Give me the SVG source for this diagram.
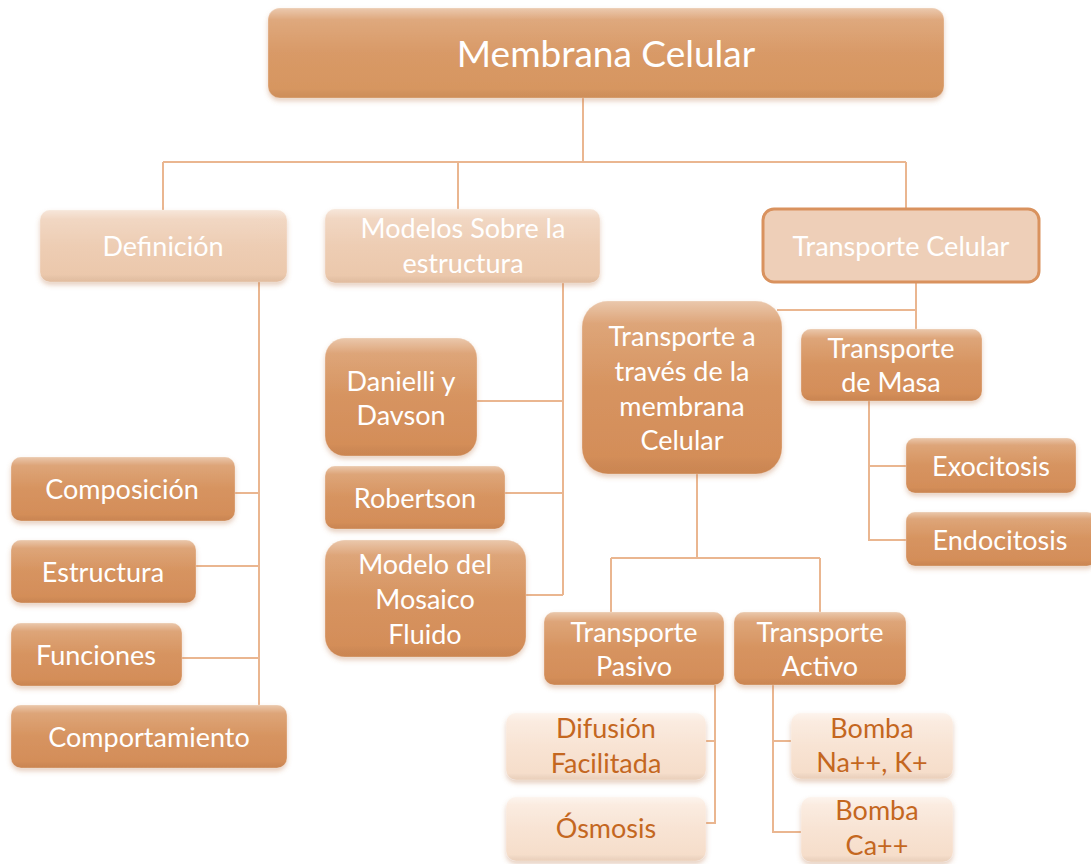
<svg xmlns="http://www.w3.org/2000/svg" width="1091" height="864" viewBox="0 0 1091 864">
  <defs>
    <linearGradient id="gDark" x1="0" y1="0" x2="0" y2="1">
      <stop offset="0" stop-color="#DA9B69"/>
      <stop offset="1" stop-color="#D38C57"/>
    </linearGradient>
    <linearGradient id="gRoot" x1="0" y1="0" x2="0" y2="1">
      <stop offset="0" stop-color="#DB9E6E"/>
      <stop offset="1" stop-color="#D6955F"/>
    </linearGradient>
    <linearGradient id="gLight" x1="0" y1="0" x2="0" y2="1">
      <stop offset="0" stop-color="#F0D3BD"/>
      <stop offset="1" stop-color="#EBC7AA"/>
    </linearGradient>
    <linearGradient id="gPale" x1="0" y1="0" x2="0" y2="1">
      <stop offset="0" stop-color="#FBEBDF"/>
      <stop offset="1" stop-color="#F5DCC8"/>
    </linearGradient>
    <!-- glassy bevel: bright top rim, soft darker base -->
    <linearGradient id="gGloss" x1="0" y1="0" x2="0" y2="1">
      <stop offset="0" stop-color="#FFFFFF" stop-opacity="0.45"/>
      <stop offset="0.13" stop-color="#FFFFFF" stop-opacity="0.12"/>
      <stop offset="0.5" stop-color="#FFFFFF" stop-opacity="0"/>
      <stop offset="0.9" stop-color="#000000" stop-opacity="0"/>
      <stop offset="1" stop-color="#7A3A10" stop-opacity="0.08"/>
    </linearGradient>
    <filter id="sh" x="-10%" y="-20%" width="120%" height="150%">
      <feDropShadow dx="0" dy="3" stdDeviation="2.5" flood-color="#B9733F" flood-opacity="0.35"/>
    </filter>
    <style>
      .dark { fill: url(#gDark); filter: url(#sh); }
      .root { fill: url(#gRoot); filter: url(#sh); }
      .light { fill: url(#gLight); filter: url(#sh); }
      .pale { fill: url(#gPale); filter: url(#sh); }
      .framed { fill: #EECFB8; stroke: #D9925E; stroke-width: 3; }
      .gloss { fill: url(#gGloss); stroke: #FFFFFF; stroke-opacity: 0.25; stroke-width: 1; }
      text { font-family: Lato, "Open Sans", "Liberation Sans", sans-serif; font-size: 27px; text-anchor: middle; fill: #FFFFFF; }
      .big { font-size: 37px; }
      .orange { fill: #C4671F; }
      .conn { fill: none; stroke: #EAB690; stroke-width: 2; }
    </style>
  </defs>

  <!-- connectors -->
  <g id="connectors" class="conn">
    <path d="M583 98 V162 M163 162 H906 M163 162 V210 M458 162 V209 M906 162 V208"/>
    <path d="M259 282 V705 M235 493 H259 M196 566 H259 M182 658 H259"/>
    <path d="M563 283 V595 M477 401 H563 M490 493 H563 M526 595 H563"/>
    <path d="M916 283 V329 M777 310 H916"/>
    <path d="M869 401 V540 H906 M869 466 H906"/>
    <path d="M697 474 V558 M611 558 H820 M611 558 V612 M820 558 V612"/>
    <path d="M715 685 V823 H706 M706 741 H715"/>
    <path d="M773 685 V832 H801 M773 741 H791"/>
  </g>

  <g id="n-membrana">
    <rect class="root" x="268" y="8" width="676" height="90" rx="12"/>
    <rect class="gloss" x="268" y="8" width="676" height="90" rx="12"/>
    <text class="big" x="606" y="67">Membrana Celular</text>
  </g>

  <g id="n-definicion">
    <rect class="light" x="40" y="210" width="247" height="72" rx="10"/>
    <rect class="gloss" x="40" y="210" width="247" height="72" rx="10"/>
    <text x="163" y="256">Definición</text>
  </g>

  <g id="n-modelos">
    <rect class="light" x="325" y="209" width="275" height="74" rx="10"/>
    <rect class="gloss" x="325" y="209" width="275" height="74" rx="10"/>
    <text x="463" y="238">Modelos Sobre la</text>
    <text x="463" y="273">estructura</text>
  </g>

  <g id="n-transporte-celular">
    <rect class="framed" x="763" y="209" width="276" height="73" rx="11"/>
    <text x="901" y="256">Transporte Celular</text>
  </g>

  <g id="n-composicion">
    <rect class="dark" x="11" y="457" width="224" height="64" rx="10"/>
    <rect class="gloss" x="11" y="457" width="224" height="64" rx="10"/>
    <text x="122" y="499">Composición</text>
  </g>

  <g id="n-estructura">
    <rect class="dark" x="11" y="540" width="185" height="63" rx="10"/>
    <rect class="gloss" x="11" y="540" width="185" height="63" rx="10"/>
    <text x="103" y="582">Estructura</text>
  </g>

  <g id="n-funciones">
    <rect class="dark" x="11" y="623" width="171" height="63" rx="10"/>
    <rect class="gloss" x="11" y="623" width="171" height="63" rx="10"/>
    <text x="96" y="665">Funciones</text>
  </g>

  <g id="n-comportamiento">
    <rect class="dark" x="11" y="705" width="276" height="63" rx="10"/>
    <rect class="gloss" x="11" y="705" width="276" height="63" rx="10"/>
    <text x="149" y="747">Comportamiento</text>
  </g>

  <g id="n-danielli">
    <rect class="dark" x="325" y="338" width="152" height="118" rx="20"/>
    <rect class="gloss" x="325" y="338" width="152" height="118" rx="20"/>
    <text x="401" y="391">Danielli y</text>
    <text x="401" y="425">Davson</text>
  </g>

  <g id="n-robertson">
    <rect class="dark" x="325" y="466" width="180" height="63" rx="10"/>
    <rect class="gloss" x="325" y="466" width="180" height="63" rx="10"/>
    <text x="415" y="508">Robertson</text>
  </g>

  <g id="n-mosaico">
    <rect class="dark" x="325" y="540" width="201" height="117" rx="20"/>
    <rect class="gloss" x="325" y="540" width="201" height="117" rx="20"/>
    <text x="425" y="574">Modelo del</text>
    <text x="425" y="609">Mosaico</text>
    <text x="425" y="644">Fluido</text>
  </g>

  <g id="n-transporte-membrana">
    <rect class="dark" x="582" y="301" width="200" height="173" rx="26"/>
    <rect class="gloss" x="582" y="301" width="200" height="173" rx="26"/>
    <text x="682" y="346">Transporte a</text>
    <text x="682" y="381">través de la</text>
    <text x="682" y="416">membrana</text>
    <text x="682" y="450">Celular</text>
  </g>

  <g id="n-masa">
    <rect class="dark" x="801" y="329" width="181" height="72" rx="10"/>
    <rect class="gloss" x="801" y="329" width="181" height="72" rx="10"/>
    <text x="891" y="358">Transporte</text>
    <text x="891" y="392">de Masa</text>
  </g>

  <g id="n-exocitosis">
    <rect class="dark" x="906" y="438" width="170" height="55" rx="9"/>
    <rect class="gloss" x="906" y="438" width="170" height="55" rx="9"/>
    <text x="991" y="476">Exocitosis</text>
  </g>

  <g id="n-endocitosis">
    <rect class="dark" x="906" y="512" width="190" height="54" rx="9"/>
    <rect class="gloss" x="906" y="512" width="190" height="54" rx="9"/>
    <text x="1000" y="550">Endocitosis</text>
  </g>

  <g id="n-pasivo">
    <rect class="dark" x="544" y="612" width="180" height="73" rx="10"/>
    <rect class="gloss" x="544" y="612" width="180" height="73" rx="10"/>
    <text x="634" y="642">Transporte</text>
    <text x="634" y="676">Pasivo</text>
  </g>

  <g id="n-activo">
    <rect class="dark" x="734" y="612" width="172" height="73" rx="10"/>
    <rect class="gloss" x="734" y="612" width="172" height="73" rx="10"/>
    <text x="820" y="642">Transporte</text>
    <text x="820" y="676">Activo</text>
  </g>

  <g id="n-difusion">
    <rect class="pale" x="506" y="713" width="200" height="67" rx="10"/>
    <rect class="gloss" x="506" y="713" width="200" height="67" rx="10"/>
    <text class="orange" x="606" y="738">Difusión</text>
    <text class="orange" x="606" y="773">Facilitada</text>
  </g>

  <g id="n-osmosis">
    <rect class="pale" x="506" y="797" width="200" height="64" rx="10"/>
    <rect class="gloss" x="506" y="797" width="200" height="64" rx="10"/>
    <text class="orange" x="606" y="838">Ósmosis</text>
  </g>

  <g id="n-bomba-nak">
    <rect class="pale" x="791" y="713" width="162" height="66" rx="10"/>
    <rect class="gloss" x="791" y="713" width="162" height="66" rx="10"/>
    <text class="orange" x="872" y="738">Bomba</text>
    <text class="orange" x="872" y="772">Na++, K+</text>
  </g>

  <g id="n-bomba-ca">
    <rect class="pale" x="801" y="797" width="152" height="65" rx="10"/>
    <rect class="gloss" x="801" y="797" width="152" height="65" rx="10"/>
    <text class="orange" x="877" y="820">Bomba</text>
    <text class="orange" x="877" y="855">Ca++</text>
  </g>
</svg>
